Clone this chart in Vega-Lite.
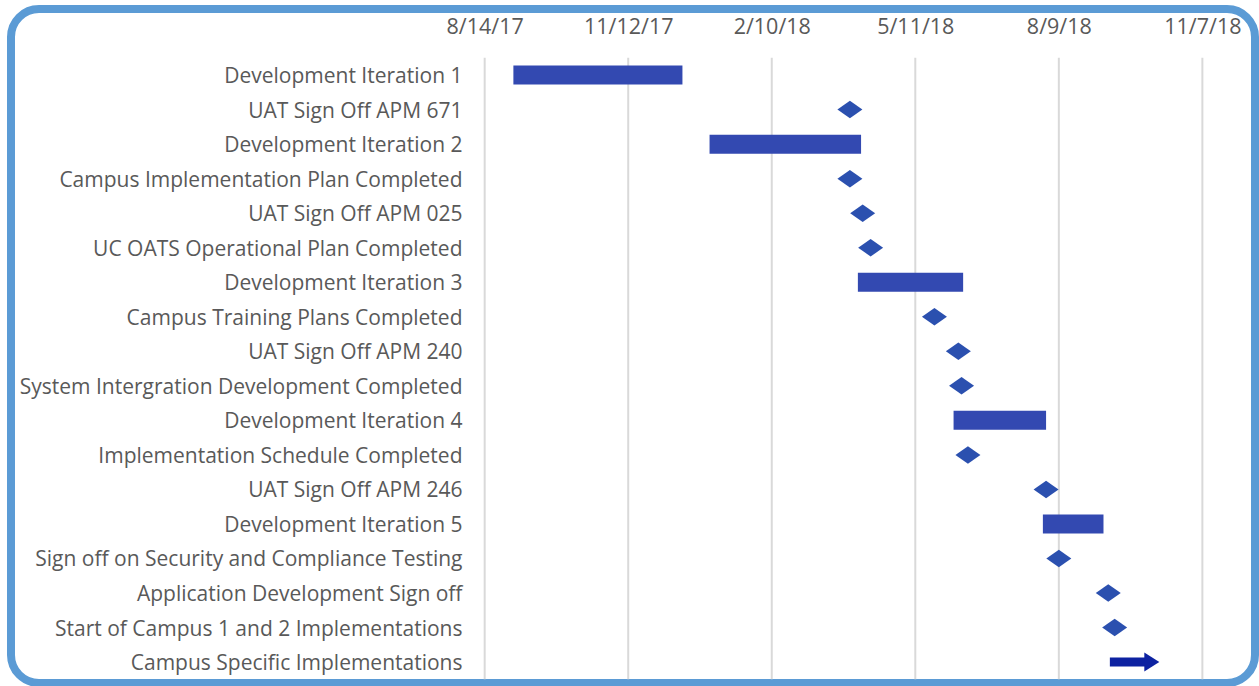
{
  "$schema": "https://vega.github.io/schema/vega-lite/v6.json",
  "width": 1244,
  "height": 674,
  "autosize": "none",
  "padding": {"left": 11, "top": 9, "right": 4, "bottom": 3},
  "background": "white",
  "config": {
    "view": {"stroke": "#5B9BD5", "strokeWidth": 8, "cornerRadius": 28, "fill": "white"},
    "font": "Open Sans",
    "axis": {"domain": false, "ticks": false, "grid": false, "labelColor": "#595959", "labelFont": "Open Sans", "labelFontSize": 21},
    "axisX": {"labelPadding": 19, "labelFontSize": 21.5},
    "axisY": {"labelPadding": 22, "labelLimit": 0, "labelOffset": 2}
  },
  "datasets": {
    "tasks": [
      {"task": "Development Iteration 1", "kind": "bar", "start": "2017-09-01", "end": "2017-12-16"},
      {"task": "UAT Sign Off APM 671", "kind": "milestone", "start": "2018-03-31"},
      {"task": "Development Iteration 2", "kind": "bar", "start": "2018-01-02", "end": "2018-04-07"},
      {"task": "Campus Implementation Plan Completed", "kind": "milestone", "start": "2018-03-31"},
      {"task": "UAT Sign Off APM 025", "kind": "milestone", "start": "2018-04-08"},
      {"task": "UC OATS Operational Plan Completed", "kind": "milestone", "start": "2018-04-13"},
      {"task": "Development Iteration 3", "kind": "bar", "start": "2018-04-05", "end": "2018-06-10"},
      {"task": "Campus Training Plans Completed", "kind": "milestone", "start": "2018-05-23"},
      {"task": "UAT Sign Off APM 240", "kind": "milestone", "start": "2018-06-07"},
      {"task": "System Intergration Development Completed", "kind": "milestone", "start": "2018-06-09"},
      {"task": "Development Iteration 4", "kind": "bar", "start": "2018-06-04", "end": "2018-08-01"},
      {"task": "Implementation Schedule Completed", "kind": "milestone", "start": "2018-06-13"},
      {"task": "UAT Sign Off APM 246", "kind": "milestone", "start": "2018-08-01"},
      {"task": "Development Iteration 5", "kind": "bar", "start": "2018-07-30", "end": "2018-09-06"},
      {"task": "Sign off on Security and Compliance Testing", "kind": "milestone", "start": "2018-08-09"},
      {"task": "Application Development Sign off\u2002", "kind": "milestone", "start": "2018-09-09"},
      {"task": "Start of Campus 1 and 2 Implementations", "kind": "milestone", "start": "2018-09-13"},
      {"task": "Campus Specific Implementations", "kind": "arrow", "start": "2018-09-10", "end": "2018-10-11"}
    ],
    "grid": [
      {"date": "2017-08-14"},
      {"date": "2017-11-12"},
      {"date": "2018-02-10"},
      {"date": "2018-05-11"},
      {"date": "2018-08-09"},
      {"date": "2018-11-07"}
    ]
  },
  "layer": [
    {
      "data": {"name": "grid"},
      "mark": {"type": "rule", "color": "#D9D9D9", "strokeWidth": 2},
      "encoding": {
        "x": {
          "field": "date",
          "type": "temporal",
          "title": null,
          "scale": {
            "type": "utc",
            "domain": [
              {"year": 2016, "month": 10, "date": 21, "utc": true},
              {"year": 2018, "month": 12, "date": 10, "utc": true}
            ]
          },
          "axis": {
            "orient": "top",
            "offset": -48,
            "format": "%-m/%-d/%y",
            "values": [
              {"year": 2017, "month": 8, "date": 14, "utc": true},
              {"year": 2017, "month": 11, "date": 12, "utc": true},
              {"year": 2018, "month": 2, "date": 10, "utc": true},
              {"year": 2018, "month": 5, "date": 11, "utc": true},
              {"year": 2018, "month": 8, "date": 9, "utc": true},
              {"year": 2018, "month": 11, "date": 7, "utc": true}
            ]
          }
        },
        "y": {"datum": "Development Iteration 1", "type": "nominal", "bandPosition": 0, "title": null},
        "y2": {"datum": "Campus Specific Implementations", "bandPosition": 1}
      }
    },
    {
      "data": {"name": "tasks"},
      "transform": [{"filter": "datum.kind === 'bar'"}],
      "mark": {"type": "bar", "color": "#3349B1", "height": 19},
      "encoding": {
        "x": {"field": "start", "type": "temporal", "title": null},
        "x2": {"field": "end"},
        "y": {
          "field": "task",
          "type": "nominal",
          "title": null,
          "scale": {
            "domain": [
              "Development Iteration 1",
              "UAT Sign Off APM 671",
              "Development Iteration 2",
              "Campus Implementation Plan Completed",
              "UAT Sign Off APM 025",
              "UC OATS Operational Plan Completed",
              "Development Iteration 3",
              "Campus Training Plans Completed",
              "UAT Sign Off APM 240",
              "System Intergration Development Completed",
              "Development Iteration 4",
              "Implementation Schedule Completed",
              "UAT Sign Off APM 246",
              "Development Iteration 5",
              "Sign off on Security and Compliance Testing",
              "Application Development Sign off\u2002",
              "Start of Campus 1 and 2 Implementations",
              "Campus Specific Implementations"
            ],
            "paddingInner": 0,
            "paddingOuter": 0.76,
            "align": 0.93
          },
          "axis": {"orient": "left", "offset": -473}
        }
      }
    },
    {
      "data": {"name": "tasks"},
      "transform": [{"filter": "datum.kind === 'milestone'"}],
      "mark": {"type": "point", "shape": "M-1,0L0,-0.7L1,0L0,0.7Z", "filled": true, "size": 625, "color": "#2B50AF", "opacity": 1, "strokeWidth": 0},
      "encoding": {
        "x": {"field": "start", "type": "temporal", "title": null},
        "y": {"field": "task", "type": "nominal", "title": null}
      }
    },
    {
      "data": {"name": "tasks"},
      "transform": [{"filter": "datum.kind === 'arrow'"}],
      "mark": {"type": "bar", "color": "#0D22A1", "height": 9, "x2Offset": -12},
      "encoding": {
        "x": {"field": "start", "type": "temporal", "title": null},
        "x2": {"field": "end"},
        "y": {"field": "task", "type": "nominal", "title": null}
      }
    },
    {
      "data": {"name": "tasks"},
      "transform": [{"filter": "datum.kind === 'arrow'"}],
      "mark": {"type": "point", "shape": "M-2,-1.27L0,0L-2,1.27Z", "filled": true, "size": 225, "color": "#0D22A1", "opacity": 1, "strokeWidth": 0},
      "encoding": {
        "x": {"field": "end", "type": "temporal", "title": null},
        "y": {"field": "task", "type": "nominal", "title": null}
      }
    }
  ]
}
